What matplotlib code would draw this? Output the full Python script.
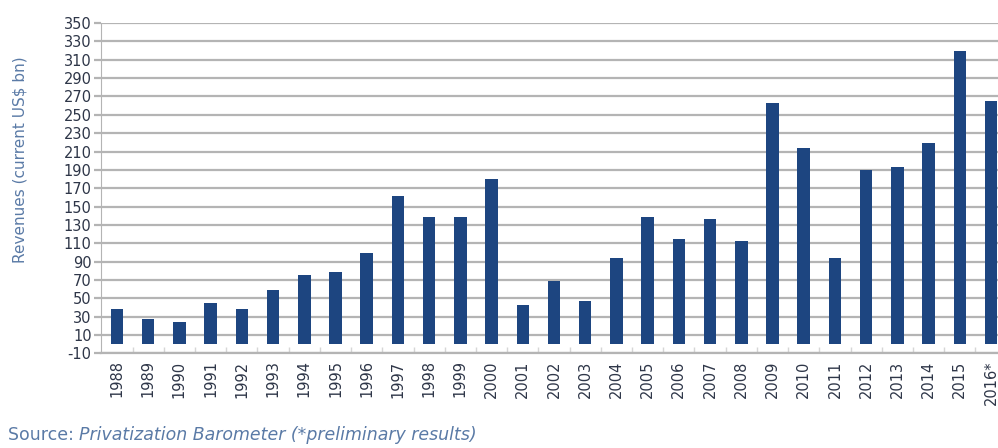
import matplotlib.pyplot as plt

years = ["1988", "1989", "1990", "1991", "1992", "1993", "1994", "1995", "1996",
         "1997", "1998", "1999", "2000", "2001", "2002", "2003", "2004", "2005",
         "2006", "2007", "2008", "2009", "2010", "2011", "2012", "2013", "2014",
         "2015", "2016*"]
revenues = [38, 28, 24, 45, 38, 59, 75, 79, 99,
            162, 139, 139, 180, 43, 69, 47, 94, 139,
            115, 137, 112, 263, 214, 94, 190, 193, 219,
            319, 265]
y_ticks = list(range(-10, 351, 20))

bar_color = "#1d4580"
grid_color = "#b4b4b4"
text_color = "#2e3648"
label_color = "#5a7aa6"

fig = plt.figure(figsize=(9.98, 4.48), dpi=100)
# the chart is cropped on the right, so the axes run past the figure edge
ax = fig.add_axes([0.1016, 0.211, 0.907, 0.7377])

x = list(range(len(years)))
ax.bar(x, revenues, width=0.4, color=bar_color, zorder=3)

ax.set_xlim(-0.5, len(years) - 0.5)
ax.set_ylim(-10, 350)
ax.set_yticks(y_ticks)
ax.set_yticklabels([str(v) for v in y_ticks], fontsize=10.5, color=text_color)
ax.set_xticks(x)
ax.set_xticklabels(years, rotation=90, fontsize=10.5, color=text_color)
# faint marks between categories
ax.set_xticks([i + 0.5 for i in x], minor=True)

ax.grid(axis="y", color=grid_color, linewidth=1.6, zorder=0)
for side in ["top", "right"]:
    ax.spines[side].set_visible(False)
ax.spines["left"].set_color(grid_color)
ax.spines["bottom"].set_color(grid_color)
ax.spines["bottom"].set_linewidth(1.6)
ax.tick_params(axis="y", length=5, color=grid_color, width=1.6, pad=2)
ax.tick_params(axis="x", which="major", length=0, pad=5)
ax.tick_params(axis="x", which="minor", length=4, direction="in",
               color="#d6d6d6", width=1.0)

fig.text(0.02, 0.643, "Revenues (current US$ bn)", rotation=90, ha="center",
         va="center", fontsize=11, color=label_color)

src = fig.text(0.008, 0.018, "Source: ", fontsize=12.5, color=label_color)
ax.annotate("Privatization Barometer (*preliminary results)", xy=(1, 0),
            xycoords=src, va="bottom", fontsize=12.5, color=label_color,
            style="italic", annotation_clip=False)

fig.savefig("out.png", dpi=100)
